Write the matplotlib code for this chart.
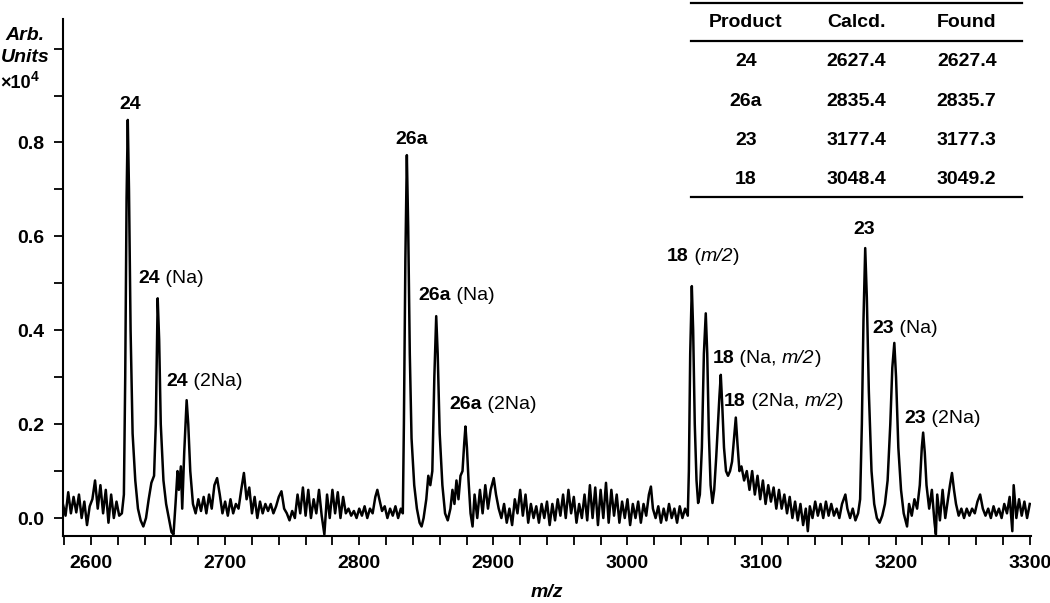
import matplotlib
matplotlib.use("Agg")
import matplotlib.pyplot as plt
from matplotlib.lines import Line2D

plt.rcParams['font.family'] = ['Liberation Sans', 'DejaVu Sans']

# spectrum (m/z, intensity x10^4)
spec_mz = [
    2579, 2581, 2583, 2585, 2587, 2589, 2591, 2593, 2595, 2597, 2599, 2601, 2603, 2605, 2607, 2609,
    2611, 2613, 2615, 2617, 2619, 2621, 2623,
    2624.5, 2625.5, 2626.5, 2627.4, 2628.3, 2629.5, 2631, 2633, 2635, 2637, 2639, 2641, 2643, 2645, 2647,
    2648.3, 2649.7, 2650.8, 2652, 2654, 2656, 2658, 2660, 2661.5, 2663, 2664.5, 2665.5, 2667, 2668, 2669.5,
    2671.3, 2672.5, 2674, 2676, 2678, 2680, 2682, 2684, 2686, 2688, 2690, 2692, 2694, 2696, 2698, 2700,
    2702, 2704, 2706, 2708, 2710, 2712, 2714, 2716, 2718, 2720, 2722, 2724, 2726, 2728, 2730, 2732, 2734,
    2736, 2738, 2740, 2742, 2744, 2746, 2748, 2750, 2752, 2754, 2756, 2758, 2760, 2762, 2764, 2766, 2768,
    2770, 2772, 2774, 2776, 2778, 2780, 2782, 2784, 2786, 2788, 2790, 2792, 2794, 2796, 2798, 2800, 2802,
    2804, 2806, 2808, 2810, 2812, 2813.5, 2815, 2817, 2819, 2821, 2823, 2825, 2827, 2829, 2831, 2832.5,
    2833.3, 2834.4, 2835.5, 2836.5, 2837.7, 2839, 2841, 2843, 2845, 2846.5, 2848, 2850, 2851.5, 2853, 2854.5,
    2856, 2857.4, 2858.5, 2860, 2862, 2864, 2866, 2868, 2869.5, 2871, 2872.5, 2874, 2875.5, 2877, 2878.3,
    2879.2, 2880.3, 2881.5, 2883, 2884.5, 2886, 2888, 2890, 2892, 2894, 2896, 2898, 2900.3, 2902, 2904,
    2906, 2908, 2910, 2912, 2914, 2916, 2918, 2920, 2922, 2924, 2926, 2928, 2930, 2932, 2934, 2936, 2938,
    2940, 2942, 2944, 2946, 2948, 2950, 2952, 2954, 2956, 2958, 2960, 2962, 2964, 2966, 2968, 2970, 2972,
    2974, 2976, 2978, 2980, 2982, 2984, 2986, 2988, 2990, 2992, 2994, 2996, 2998, 3000, 3002, 3004, 3006,
    3008, 3010, 3012, 3014, 3016, 3017.5, 3019, 3021, 3023, 3025, 3027, 3029, 3031, 3033, 3035, 3037, 3039,
    3041, 3043, 3045,
    3045.8, 3046.8, 3048, 3049, 3050.2, 3051.5, 3052.7, 3054, 3055.5, 3057, 3058.4, 3059.5, 3060.7, 3062,
    3063.4, 3064.7, 3066.2, 3067.5, 3068.6, 3069.6, 3070.7, 3072, 3073.5, 3075, 3076.5, 3078, 3079.5,
    3080.8, 3082, 3083.5, 3085, 3087, 3089, 3091, 3093, 3095, 3097, 3099, 3101, 3103, 3105, 3107, 3109,
    3111, 3113, 3115, 3117, 3119, 3121, 3123, 3125, 3127, 3129, 3131, 3133, 3134.5, 3136, 3138, 3140, 3142,
    3144, 3146, 3148, 3150, 3152, 3154, 3156, 3158, 3160, 3162.5, 3164, 3166, 3168, 3170, 3172, 3173.5,
    3174.8, 3176, 3177.3, 3178.5, 3180, 3182, 3184, 3186, 3188, 3190, 3192, 3194, 3196, 3197.5, 3199,
    3200.3, 3202, 3204, 3206, 3208.5, 3210, 3212, 3214, 3216, 3218, 3219.5, 3220.5, 3221.7, 3223, 3225,
    3227, 3229, 3230, 3231, 3233, 3235, 3237, 3239, 3240.5, 3242, 3243.5, 3245, 3247, 3249, 3251, 3253,
    3255, 3257, 3259, 3261, 3263, 3265, 3267, 3269, 3271, 3273, 3275, 3277, 3279, 3281, 3283, 3285, 3287,
    3288, 3290, 3292, 3294, 3296, 3298, 3300,
]
spec_int = [
    0.03, 0.005, 0.055, 0.01, 0.045, 0.012, 0.05, 0.0, 0.035, -0.015, 0.025, 0.04, 0.08, 0.02, 0.07, 0.01,
    0.06, -0.01, 0.05, 0.0, 0.035, 0.005, 0.01,
    0.05, 0.3, 0.68, 0.848, 0.7, 0.4, 0.18, 0.08, 0.02, -0.005, -0.018, 0.0, 0.04, 0.075, 0.09,
    0.2, 0.468, 0.38, 0.2, 0.08, 0.03, 0.0, -0.03, -0.035, 0.03, 0.1, 0.06, 0.11, 0.02, 0.14,
    0.251, 0.2, 0.1, 0.03, 0.01, 0.04, 0.015, 0.045, 0.01, 0.05, 0.02, 0.07, 0.085, 0.05, 0.01, 0.035,
    0.005, 0.04, 0.01, 0.03, 0.02, 0.06, 0.096, 0.04, 0.065, 0.01, 0.045, 0.0, 0.035, 0.01, 0.03, 0.015, 0.03,
    0.01, 0.025, 0.045, 0.057, 0.02, 0.01, -0.005, 0.015, 0.0, 0.05, 0.01, 0.065, 0.005, 0.06, 0.0, 0.04, 0.01,
    0.06, 0.005, -0.035, 0.05, 0.0, 0.06, 0.01, 0.055, 0.0, 0.045, 0.01, 0.02, 0.005, 0.015, 0.0, 0.02, 0.005,
    0.025, 0.0, 0.02, 0.01, 0.045, 0.06, 0.04, 0.015, 0.025, 0.0, 0.02, 0.005, 0.025, 0.0, 0.02, 0.01,
    0.2, 0.55, 0.773, 0.62, 0.35, 0.17, 0.07, 0.02, -0.01, -0.018, 0.0, 0.04, 0.09, 0.07, 0.1,
    0.3, 0.43, 0.35, 0.18, 0.07, 0.01, -0.005, 0.02, 0.06, 0.03, 0.08, 0.04, 0.09, 0.1, 0.16,
    0.195, 0.15, 0.08, 0.01, -0.018, 0.05, 0.0, 0.06, 0.01, 0.07, 0.02, 0.06, 0.085, 0.05, 0.02,
    0.0, 0.03, -0.01, 0.02, -0.015, 0.04, 0.01, 0.06, 0.005, 0.05, -0.01, 0.03, 0.0, 0.025, -0.01, 0.03, 0.0,
    0.035, -0.015, 0.03, -0.005, 0.04, 0.005, 0.05, 0.0, 0.06, 0.01, 0.045, -0.01, 0.03, 0.0, 0.05, -0.005, 0.07,
    0.0, 0.065, -0.015, 0.06, 0.0, 0.075, -0.01, 0.06, 0.005, 0.05, -0.01, 0.035, 0.0, 0.04, -0.015, 0.03, 0.0,
    0.035, -0.01, 0.03, 0.005, 0.05, 0.067, 0.02, 0.0, 0.025, -0.01, 0.02, -0.005, 0.03, 0.0, 0.02, -0.01, 0.025,
    0.0, 0.02, 0.005,
    0.1, 0.35, 0.494, 0.4, 0.2, 0.08, 0.032, 0.05, 0.15, 0.35, 0.436, 0.35, 0.18, 0.07,
    0.032, 0.06, 0.13, 0.2, 0.26, 0.305, 0.24, 0.15, 0.1, 0.09, 0.1, 0.12, 0.17,
    0.214, 0.16, 0.1, 0.11, 0.08, 0.1, 0.06, 0.1, 0.05, 0.09, 0.04, 0.08, 0.03, 0.07, 0.035, 0.065,
    0.02, 0.06, 0.02, 0.05, 0.01, 0.045, 0.0, 0.035, -0.005, 0.03, -0.015, 0.02, -0.028, 0.025, 0.0, 0.035, 0.005,
    0.03, 0.0, 0.035, 0.005, 0.03, 0.005, 0.02, 0.0, 0.03, 0.05, 0.02, 0.0, 0.02, -0.005, 0.01, 0.04,
    0.2, 0.42, 0.575, 0.47, 0.27, 0.1, 0.03, 0.0, -0.01, 0.005, 0.03, 0.08, 0.2, 0.32, 0.373,
    0.3, 0.15, 0.06, 0.01, -0.018, 0.03, 0.005, 0.04, 0.02, 0.07, 0.15, 0.182, 0.14, 0.07, 0.02,
    0.06, -0.01, -0.035, 0.05, -0.005, 0.06, 0.0, 0.04, 0.07, 0.096, 0.06, 0.03, 0.005, 0.02, 0.0, 0.02,
    0.005, 0.02, 0.01, 0.035, 0.05, 0.02, 0.005, 0.02, 0.0, 0.025, 0.005, 0.02, 0.0, 0.03, 0.01, 0.045, -0.028,
    0.07, 0.0, 0.04, 0.005, 0.035, 0.0, 0.03,
]

# table
products = ['24', '26a', '23', '18']
calcd = ['2627.4', '2835.4', '3177.4', '3048.4']
found = ['2627.4', '2835.7', '3177.3', '3049.2']

fs = 14

fig = plt.figure(figsize=(10.5, 6.03), dpi=100)
ax = fig.add_axes([0.06, 0.1111, 0.922, 0.8574])
ax.plot(spec_mz, spec_int, color='black', lw=1.8, solid_joinstyle='round')

ax.set_xlim(2579.1, 3301)
ax.set_ylim(-0.0383, 1.063)
ax.spines['top'].set_visible(False)
ax.spines['right'].set_visible(False)
for s in ['left', 'bottom']:
    ax.spines[s].set_linewidth(1.5)
ax.set_xticks([2600, 2700, 2800, 2900, 3000, 3100, 3200, 3300])
ax.set_xticks([2580 + 20 * i for i in range(37) if (2580 + 20 * i) % 100 != 0], minor=True)
ax.set_yticks([0.0, 0.2, 0.4, 0.6, 0.8])
ax.set_yticks([0.1, 0.3, 0.5, 0.7, 0.9, 1.0], minor=True)
ax.set_yticklabels(['0.0', '0.2', '0.4', '0.6', '0.8'])
ax.tick_params(which='both', direction='out', length=6.5, width=1.3, labelsize=fs, pad=7)
for lab in ax.get_xticklabels() + ax.get_yticklabels():
    lab.set_fontweight('bold')

ax.set_xlabel('m/z', fontsize=fs, fontweight='bold', fontstyle='italic', labelpad=9)

fig.text(25 / 1050, 1 - 36 / 603, 'Arb.', ha='center', va='center', fontsize=fs,
         fontweight='bold', fontstyle='italic')
fig.text(25 / 1050, 1 - 58 / 603, 'Units', ha='center', va='center', fontsize=fs,
         fontweight='bold', fontstyle='italic')
t10 = fig.text(0 / 1050, 1 - 83 / 603, '×10', ha='left', va='center', fontsize=fs - 1, fontweight='bold')
ax.annotate('4', xy=(1, 0.45), xycoords=t10, va='bottom', ha='left', fontsize=fs - 4, fontweight='bold')


def label(x, y, parts, ha='left'):
    s, w, st = parts[0]
    t = ax.text(x, y, s, ha=ha, va='center', fontsize=fs, fontweight=w, fontstyle=st)
    prev = t
    for s, w, st in parts[1:]:
        prev = ax.annotate(s, xy=(1, 0), xycoords=prev, ha='left', va='bottom',
                           fontsize=fs, fontweight=w, fontstyle=st)
    return t


B = ('bold', 'normal')
R = ('normal', 'normal')
I = ('normal', 'italic')

label(2629, 0.88, [('24',) + B], ha='center')
label(2635, 0.511, [('24',) + B, (' (Na)',) + R])
label(2656.4, 0.29, [('24',) + B, (' (2Na)',) + R])
label(2839.3, 0.807, [('26a',) + B], ha='center')
label(2844.2, 0.473, [('26a',) + B, (' (Na)',) + R])
label(2867.3, 0.241, [('26a',) + B, (' (2Na)',) + R])
label(3029.6, 0.557, [('18',) + B, (' (',) + R, ('m/2',) + I, (')',) + R])
label(3063.4, 0.340, [('18',) + B, (' (Na, ',) + R, ('m/2',) + I, (')',) + R])
label(3072.1, 0.248, [('18',) + B, (' (2Na, ',) + R, ('m/2',) + I, (')',) + R])
label(3176.5, 0.614, [('23',) + B], ha='center')
label(3182.5, 0.404, [('23',) + B, (' (Na)',) + R])
label(3206.6, 0.212, [('23',) + B, (' (2Na)',) + R])

# results table in the top right corner
x0, x1 = 690.7 / 1050, 1021.7 / 1050
for yp in [2.7, 41, 197.3]:
    fig.add_artist(Line2D([x0, x1], [1 - yp / 603, 1 - yp / 603], color='black', lw=1.6,
                          transform=fig.transFigure))
col_x = [746 / 1050, 856 / 1050, 966.7 / 1050]
for cx, head in zip(col_x, ['Product', 'Calcd.', 'Found']):
    fig.text(cx, 1 - 22.7 / 603, head, ha='center', va='center', fontsize=fs, fontweight='bold')
row_y = [61.7, 101, 140, 180]
for i in range(len(products)):
    yy = 1 - row_y[i] / 603
    fig.text(col_x[0], yy, products[i], ha='center', va='center', fontsize=fs, fontweight='bold')
    fig.text(col_x[1], yy, calcd[i], ha='center', va='center', fontsize=fs, fontweight='bold')
    fig.text(col_x[2], yy, found[i], ha='center', va='center', fontsize=fs, fontweight='bold')

fig.savefig('out.png', dpi=100)
